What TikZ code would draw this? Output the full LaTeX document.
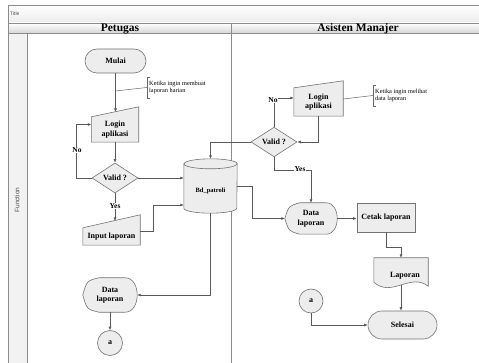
\documentclass[tikz,border=0pt]{standalone}
\usepackage{fontspec}
\setmainfont{Liberation Serif}
\setsansfont{Liberation Sans}
\usetikzlibrary{shapes.geometric,arrows.meta,calc}
\pgfdeclarelayer{bg}
\pgfdeclarelayer{body}
\pgfsetlayers{bg,body,main}
\begin{document}
\begin{tikzpicture}[x=1pt,y=-1pt,
  shp/.style={draw=black!55, fill=black!7, line width=0.6pt},
  lbl/.style={font=\bfseries\fontsize{8}{9.5}\selectfont, align=center, inner sep=0pt},
  conn/.style={draw=black!65, line width=0.6pt, -{Latex[length=3.5pt,width=3pt]}},
  plain/.style={draw=black!60, line width=0.5pt},
  note/.style={font=\fontsize{6.3}{7.6}\selectfont, align=left, anchor=west, inner xsep=2pt, minimum height=21pt},
  yn/.style={font=\bfseries\fontsize{7.5}{9}\selectfont, fill=white, inner sep=0.6pt},
  lane/.style={draw=black!45, line width=0.6pt},
]
\useasboundingbox (0,0) rectangle (479,363);
\begin{pgfonlayer}{bg}
\fill[white] (0,0) rectangle (479,363);
\shade[top color=white, bottom color=black!8] (8,5) rectangle (479,23);
\shade[top color=white, bottom color=black!16] (8,23) rectangle (479,33);
\fill[black!5] (8,33) rectangle (27,363);
\draw[lane] (479,5) -- (8,5) -- (8,363);
\draw[lane] (8,23) -- (479,23);
\draw[lane] (8,33) -- (479,33);
\draw[lane] (27,33) -- (27,363);
\draw[lane] (231,23) -- (231,363);
\end{pgfonlayer}
\node[font=\sffamily\fontsize{5}{6}\selectfont, text=black!70, anchor=west, inner sep=0] (title) at (10,14) {Title};
\node[font=\bfseries\fontsize{11.5}{13}\selectfont, inner sep=0, anchor=base] (h1) at (120,31.5) {Petugas};
\node[font=\bfseries\fontsize{11.5}{13}\selectfont, inner sep=0, anchor=base] (h2) at (358,31.5) {Asisten Manajer};
\node[font=\sffamily\fontsize{6.5}{8}\selectfont, text=black!70, rotate=90, inner sep=0] (fn) at (17,200) {Function};

% ---------- Petugas lane ----------
\node[shp, rounded corners=12pt, minimum width=61pt, minimum height=24pt, lbl] (mulai) at (115.5,61) {Mulai};
\node[note] (c1) at (147,87.5) {Ketika ingin membuat\\laporan harian};
\draw[plain] ($(c1.north west)+(3,0)$) -- (c1.north west) -- (c1.south west) -- ++(3,0);
\coordinate (m1) at (115.5,91);
\draw[plain] (m1) -- (c1.west);

\node[lbl, minimum width=47pt, minimum height=25pt] (login1) at (115,129.5) {Login\\aplikasi};
\begin{pgfonlayer}{body}
\draw[shp] (login1.south west) -- (login1.south east) -- ($(login1.north east)+(0,-10)$) -- (login1.north west) -- cycle;
\end{pgfonlayer}
\coordinate (l1t) at (115.5,112);
\draw[conn] (mulai.south) -- (l1t);

\node[shp, diamond, minimum width=46pt, minimum height=30pt, lbl] (valid1) at (115,178) {Valid ?};
\draw[conn] (login1.south) -- (valid1.north);
\draw[conn] (valid1.west) -- ++(-15,0) |- ($(login1.west)+(0,-5)$);
\node[yn] (no1) at (77,150) {No};

\node[lbl, minimum width=57pt, minimum height=17pt] (input1) at (111.5,236.5) {Input laporan};
\begin{pgfonlayer}{body}
\draw[shp] (input1.south west) -- (input1.south east) -- ($(input1.north east)+(0,-13)$) -- (input1.north west) -- cycle;
\end{pgfonlayer}
\coordinate (i1t) at (115,221);
\draw[conn] (valid1.south) -- (i1t);
\node[yn] (yes1) at (115,206) {Yes};

\node[minimum width=53pt, minimum height=54pt, inner sep=0,
  label={[font=\bfseries\fontsize{6.5}{8}\selectfont, yshift=-5pt]center:Bd\_patroli}] (db) at (210.5,186) {};
\begin{pgfonlayer}{body}
\draw[shp] ($(db.north west)+(0,5)$) -- ($(db.south west)+(0,-5)$)
  arc[start angle=180,end angle=360,x radius=26.5pt,y radius=5pt]
  -- ($(db.north east)+(0,5)$)
  arc[start angle=0,end angle=180,x radius=26.5pt,y radius=5pt] -- cycle;
\draw[shp, fill=none] ($(db.north west)+(0,5)$) arc[start angle=180,end angle=360,x radius=26.5pt,y radius=5pt];
\end{pgfonlayer}

\node[lbl, minimum width=54pt, minimum height=34pt] (data1) at (110,295) {Data\\laporan};
\begin{pgfonlayer}{body}
\draw[shp] (data1.west) .. controls ($(data1.north west)+(4,3)$) .. ($(data1.north west)+(16,0)$)
  -- ($(data1.north east)+(-12,0)$) .. controls ($(data1.north east)+(4,0)$) and ($(data1.south east)+(4,0)$) .. ($(data1.south east)+(-12,0)$)
  -- ($(data1.south west)+(16,0)$) .. controls ($(data1.south west)+(4,-3)$) .. (data1.west) -- cycle;
\end{pgfonlayer}
\node[shp, circle, minimum size=25pt, lbl] (a1) at (110,343) {a};
\draw[conn] (data1.south) -- (a1.north);

% ---------- Asisten Manajer lane ----------
\node[lbl, minimum width=49pt, minimum height=28pt] (login2) at (318.5,102) {Login\\aplikasi};
\begin{pgfonlayer}{body}
\draw[shp] (login2.south west) -- (login2.south east) -- ($(login2.north east)+(0,-7)$) -- (login2.north west) -- cycle;
\end{pgfonlayer}
\node[note] (c2) at (373,95.5) {Ketika ingin melihat\\data laporan};
\draw[plain] ($(c2.north west)+(3,0)$) -- (c2.north west) -- (c2.south west) -- ++(3,0);
\draw[plain] ($(login2.east)+(0,-3)$) -- (c2.west);

\node[shp, diamond, minimum width=46pt, minimum height=28pt, lbl] (valid2) at (274,142) {Valid ?};
\draw[conn] (login2.south) |- (valid2.east);
\draw[conn] (valid2.north) |- ($(login2.west)+(0,-4)$);
\node[yn] (no2) at (273,100) {No};

\node[lbl, minimum width=52pt, minimum height=31pt] (data2) at (311,218.5) {Data\\laporan};
\begin{pgfonlayer}{body}
\draw[shp] (data2.west) .. controls ($(data2.north west)+(4,3)$) .. ($(data2.north west)+(15,0)$)
  -- ($(data2.north east)+(-11,0)$) .. controls ($(data2.north east)+(3.7,0)$) and ($(data2.south east)+(3.7,0)$) .. ($(data2.south east)+(-11,0)$)
  -- ($(data2.south west)+(15,0)$) .. controls ($(data2.south west)+(4,-3)$) .. (data2.west) -- cycle;
\end{pgfonlayer}
\draw[conn] (valid2.south) -- ++(0,13) -| (data2.north);
\node[yn] (yes2) at (300,169) {Yes};

\draw[conn] (valid1.east) -- (valid1.east -| db.west);
\draw[conn] ($(input1.east)+(0,-5.5)$) -- ++(13,0) |- ($(db.west)+(0,19)$);
\draw[conn] (valid2.west) -| (db.north);
\draw[conn] (db.east) -- ++(15,0) |- (data2.west);
\draw[conn] (db.south) |- (data1.east);

\node[shp, lbl, minimum width=58pt, minimum height=29pt] (cetak) at (386,217.5) {Cetak laporan};
\draw[conn] (data2.east) -- (data2.east -| cetak.west);

\node[minimum width=54pt, minimum height=24pt, inner sep=0,
  label={[lbl, xshift=4pt, yshift=-6pt]center:Laporan}] (lap) at (401,270) {};
\begin{pgfonlayer}{body}
\draw[shp] (lap.north west) -- (lap.north east) -- ($(lap.south east)+(0,4)$)
  .. controls ($(lap.south east)+(-18,-10)$) and ($(lap.south west)+(18,16)$) .. (lap.south west) -- cycle;
\end{pgfonlayer}
\draw[conn] (cetak.south) -- ++(0,15) -| (lap.north);

\node[shp, rounded corners=14pt, minimum width=69pt, minimum height=28pt, lbl] (selesai) at (402.5,325) {Selesai};
\coordinate (lapb) at (401,285);
\draw[conn] (lapb) -- (lapb |- selesai.north);

\node[shp, circle, minimum size=24pt, lbl] (a2) at (311,301) {a};
\draw[conn] (a2.south) |- (selesai.west);
\end{tikzpicture}
\end{document}
